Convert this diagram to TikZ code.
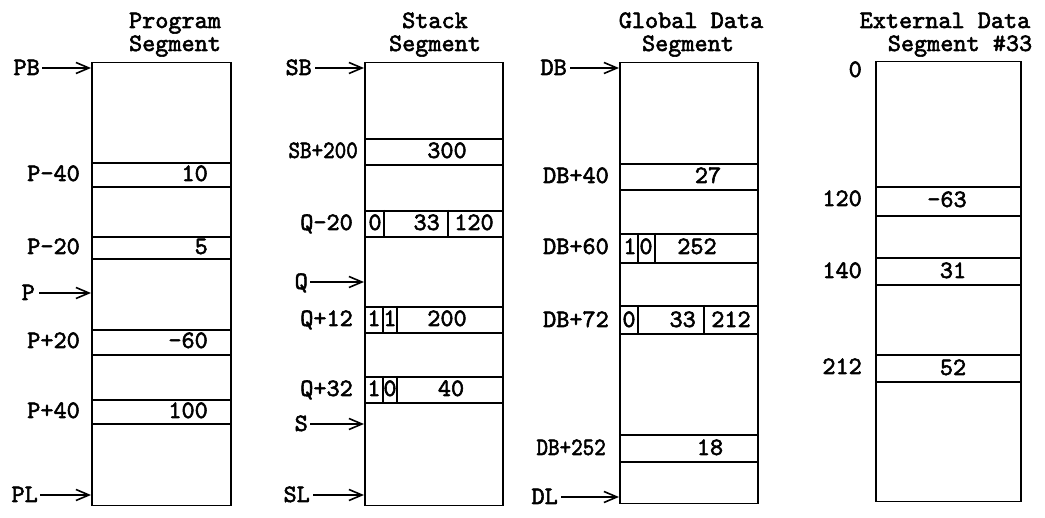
\documentclass[tikz,border=0pt]{standalone}
\usepackage{fontspec}
\newfontfamily\courb{lmmono10-regular}[Extension=.otf, FakeBold=2.2]
\usetikzlibrary{arrows.meta}
\begin{document}
\begin{tikzpicture}[x=1pt,y=-1pt,
  txt/.style={font=\fontsize{25}{22}\selectfont\courb, inner sep=0pt, text height=14pt, text depth=0pt},
  lab/.style={txt, anchor=east},
  segbox/.style={draw, line width=1.5pt, anchor=north west, inner sep=0pt},
  rowbox/.style={draw, line width=2pt, anchor=north west, inner sep=0pt},
  divl/.style={line width=1.2pt},
  ptr/.style={line width=1.6pt, -{Straight Barb[length=13pt,width=11pt,line width=1.6pt]}}
]
\useasboundingbox (0,0) rectangle (1045,518);

% ---------- Program segment ----------
\node[txt] (t1a) at (175,21) {Program};
\node[txt] (t1b) at (175,44) {Segment};
\node[segbox, minimum width=139pt, minimum height=443pt] (prog) at (91,62) {};
\node[rowbox, minimum width=139pt, minimum height=24pt] (pm40) at (91,162) {};
\node[rowbox, minimum width=139pt, minimum height=22pt] (pm20) at (91,236) {};
\node[rowbox, minimum width=139pt, minimum height=25pt] (pp20) at (91,329) {};
\node[rowbox, minimum width=139pt, minimum height=24pt] (pp40) at (91,399) {};
\node[lab] (lPB) at (40,68) {PB};
\node[lab] (lP) at (35,293) {P};
\node[lab] (lPL) at (38,495) {PL};
\draw[ptr] ([xshift=2pt]lPB.east) -- (lPB -| prog.west);
\draw[ptr] ([xshift=4pt]lP.east) -- (lP -| prog.west);
\draw[ptr] ([xshift=2pt]lPL.east) -- (lPL -| prog.west);
\node[lab] (lpm40) at (80,174) {P-40};
\node[lab] (lpm20) at (80,247) {P-20};
\node[lab] (lpp20) at (80,341) {P+20};
\node[lab] (lpp40) at (80,411) {P+40};
\node[lab] (vpm40) at (208,174) {10};
\node[lab] (vpm20) at (208,247) {5};
\node[lab] (vpp20) at (208,341) {-60};
\node[lab] (vpp40) at (208,411) {100};

% ---------- Stack segment ----------
\node[txt] (t2a) at (435,21) {Stack};
\node[txt] (t2b) at (435,44) {Segment};
\node[segbox, minimum width=138pt, minimum height=443pt] (stk) at (364,62) {};
\node[rowbox, minimum width=138pt, minimum height=26pt] (sb200) at (364,138) {};
\node[rowbox, minimum width=138pt, minimum height=26pt] (qm20) at (364,210) {};
\node[rowbox, minimum width=138pt, minimum height=26pt] (qp12) at (364,306) {};
\node[rowbox, minimum width=138pt, minimum height=26pt] (qp32) at (364,376) {};
\draw[divl] ([xshift=20pt]qm20.north west) -- ([xshift=20pt]qm20.south west);
\draw[divl] ([xshift=84pt]qm20.north west) -- ([xshift=84pt]qm20.south west);
\draw[divl] ([xshift=19pt]qp12.north west) -- ([xshift=19pt]qp12.south west);
\draw[divl] ([xshift=33pt]qp12.north west) -- ([xshift=33pt]qp12.south west);
\draw[divl] ([xshift=19pt]qp32.north west) -- ([xshift=19pt]qp32.south west);
\draw[divl] ([xshift=33pt]qp32.north west) -- ([xshift=33pt]qp32.south west);
\node[lab] (lSB) at (312,68) {SB};
\node[lab] (lQ) at (308,282) {Q};
\node[lab] (lS) at (308,424) {S};
\node[lab] (lSL) at (310,495) {SL};
\draw[ptr] ([xshift=3pt]lSB.east) -- (lSB -| stk.west);
\draw[ptr] ([xshift=2pt]lQ.east) -- (lQ -| stk.west);
\draw[ptr] ([xshift=2pt]lS.east) -- (lS -| stk.west);
\draw[ptr] ([xshift=3pt]lSL.east) -- (lSL -| stk.west);
\node[lab] (lsb200) at (358,151) {\scalebox{0.88}[1]{SB+200}};
\node[lab] (lqm20) at (353,223) {Q-20};
\node[lab] (lqp12) at (353,319) {Q+12};
\node[lab] (lqp32) at (353,389) {Q+32};
\node[txt] (vsb200) at (447,151) {300};
\node[txt] (vqm20a) at (375,223) {0};
\node[lab] (vqm20b) at (440,223) {33};
\node[txt] (vqm20c) at (474,223) {120};
\node[txt] (vqp12a) at (374,319) {1};
\node[txt] (vqp12b) at (390,319) {1};
\node[txt] (vqp12c) at (447,319) {200};
\node[txt] (vqp32a) at (374,389) {1};
\node[txt] (vqp32b) at (390,389) {0};
\node[txt] (vqp32c) at (451,389) {40};

% ---------- Global data segment ----------
\node[txt] (t3a) at (691,21) {Global Data};
\node[txt] (t3b) at (688,44) {Segment};
\node[segbox, minimum width=138pt, minimum height=441pt] (glb) at (619,62) {};
\node[rowbox, minimum width=138pt, minimum height=26pt] (db40) at (619,163) {};
\node[rowbox, minimum width=138pt, minimum height=29pt] (db60) at (619,233) {};
\node[rowbox, minimum width=138pt, minimum height=28pt] (db72) at (619,305) {};
\node[rowbox, minimum width=138pt, minimum height=27pt] (db252) at (619,434) {};
\draw[divl] ([xshift=19pt]db60.north west) -- ([xshift=19pt]db60.south west);
\draw[divl] ([xshift=36pt]db60.north west) -- ([xshift=36pt]db60.south west);
\draw[divl] ([xshift=19pt]db72.north west) -- ([xshift=19pt]db72.south west);
\draw[divl] ([xshift=85pt]db72.north west) -- ([xshift=85pt]db72.south west);
\node[lab] (lDB) at (567,68) {DB};
\node[lab] (lDL) at (558,497) {DL};
\draw[ptr] ([xshift=3pt]lDB.east) -- (lDB -| glb.west);
\draw[ptr] ([xshift=3pt]lDL.east) -- (lDL -| glb.west);
\node[lab] (ldb40) at (609,176) {DB+40};
\node[lab] (ldb60) at (609,247) {DB+60};
\node[lab] (ldb72) at (609,320) {DB+72};
\node[lab] (ldb252) at (606,448) {\scalebox{0.88}[1]{DB+252}};
\node[txt] (vdb40) at (708,176) {27};
\node[txt] (vdb60a) at (630,247) {1};
\node[txt] (vdb60b) at (646,247) {0};
\node[txt] (vdb60c) at (697,247) {252};
\node[txt] (vdb72a) at (629,320) {0};
\node[lab] (vdb72b) at (696,320) {33};
\node[txt] (vdb72c) at (731,320) {212};
\node[txt] (vdb252) at (710,448) {18};

% ---------- External data segment #33 ----------
\node[txt] (t4a) at (945,21) {External Data};
\node[txt] (t4b) at (960,44) {Segment \#33};
\node[segbox, minimum width=145pt, minimum height=440pt] (ext) at (875,61) {};
\node[rowbox, minimum width=145pt, minimum height=29pt] (e120) at (875,186) {};
\node[rowbox, minimum width=145pt, minimum height=27pt] (e140) at (875,257) {};
\node[rowbox, minimum width=145pt, minimum height=27pt] (e212) at (875,354) {};
\node[lab] (l0) at (862,70) {0};
\node[lab] (le120) at (862,199) {120};
\node[lab] (le140) at (862,271) {140};
\node[lab] (le212) at (862,367) {212};
\node[txt] (ve120) at (947,200) {-63};
\node[txt] (ve140) at (953,271) {31};
\node[txt] (ve212) at (953,368) {52};
\end{tikzpicture}
\end{document}
